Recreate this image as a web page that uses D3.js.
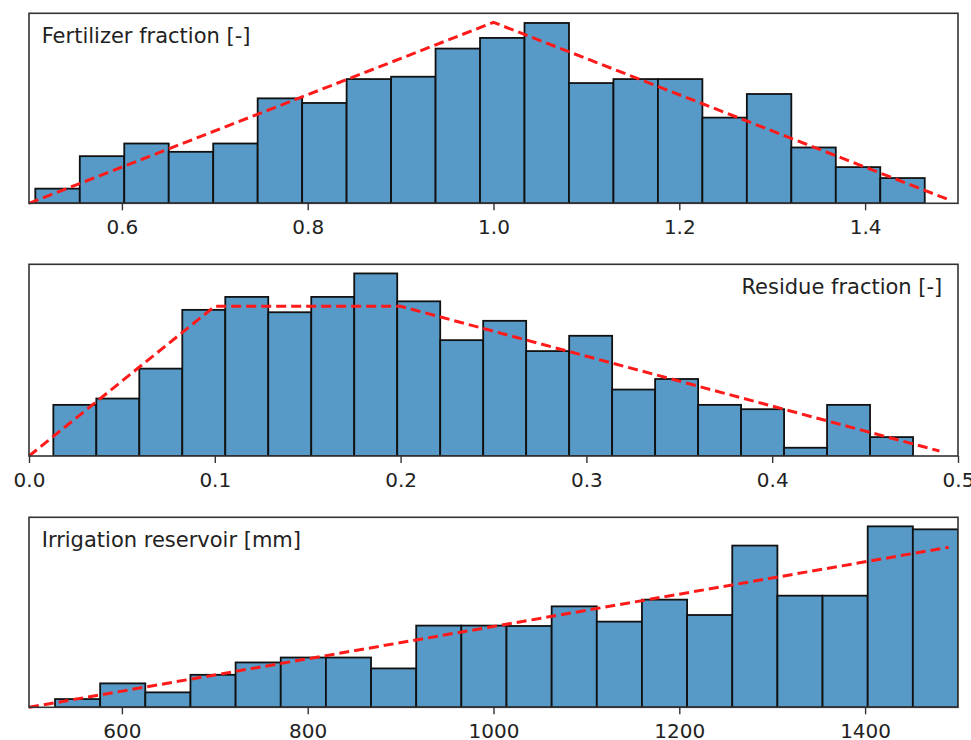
<!DOCTYPE html>
<html>
    <head>
        <meta charset="utf-8">
        <title>histograms</title>
        <script type="text/javascript" src="https://cdn.jsdelivr.net/npm/d3@7/dist/d3.min.js"></script>
        <style>
            body { margin: 0; background: #fff; }
        </style>
    </head>
    <body>
        <script type="text/javascript">
            // panel 1 - fertilizer fraction
            var fertTitle = "Fertilizer fraction [-]";
            var fertRange = [0.5, 1.5];
            var fertBinEdges = [0.5068, 1.4642];
            var fertDensity = [0.162, 0.521, 0.661, 0.569, 0.661, 1.160, 1.109, 1.373, 1.399, 1.710,
                               1.828, 1.993, 1.329, 1.373, 1.373, 0.947, 1.208, 0.617, 0.400, 0.279];
            var fertLineX = [0.5, 1.0, 1.49];
            var fertLineY = [0, 2.0, 0.04];
            var fertTicks = [0.6, 0.8, 1.0, 1.2, 1.4];
            var fertTickLabels = ["0.6", "0.8", "1.0", "1.2", "1.4"];

            // panel 2 - residue fraction
            var resTitle = "Residue fraction [-]";
            var resRange = [0, 0.5];
            var resBinEdges = [0.0131, 0.4758];
            var resDensity = [1.138, 1.279, 1.945, 3.253, 3.541, 3.200, 3.541, 4.064, 3.443, 2.579,
                              3.009, 2.335, 2.676, 1.479, 1.714, 1.138, 1.042, 0.184, 1.138, 0.421];
            var resLineX = [0, 0.1, 0.2, 0.49];
            var resLineY = [0, 3.333, 3.333, 0.111];
            var resTicks = [0, 0.1, 0.2, 0.3, 0.4, 0.5];
            var resTickLabels = ["0.0", "0.1", "0.2", "0.3", "0.4", "0.5"];

            // panel 3 - irrigation reservoir
            var irrTitle = "Irrigation reservoir [mm]";
            var irrRange = [500, 1500];
            var irrBinEdges = [528, 1500];
            var irrDensity = [0.000102, 0.000296, 0.000185, 0.000402, 0.000555, 0.000616, 0.000616, 0.000481, 0.001011, 0.001011,
                              0.001006, 0.001249, 0.001060, 0.001332, 0.001142, 0.002001, 0.001381, 0.001381, 0.002239, 0.002202];
            var irrLineX = [500, 1490];
            var irrLineY = [0, 0.00198];
            var irrTicks = [600, 800, 1000, 1200, 1400];
            var irrTickLabels = ["600", "800", "1000", "1200", "1400"];

            var w = 971;
            var h = 740;
            var left = 29;
            var right = 958;
            var barColor = "#5799c7";
            var font = "DejaVu Sans, sans-serif";

            var svg = d3.select("body")
                    .append("svg")
                    .attr("width", w)
                    .attr("height", h);

            var panels = [
                {title: fertTitle, range: fertRange, edges: fertBinEdges, dens: fertDensity, lx: fertLineX, ly: fertLineY,
                 ticks: fertTicks, labels: fertTickLabels, top: 13.3, bottom: 203.3, anchor: "start"},
                {title: resTitle, range: resRange, edges: resBinEdges, dens: resDensity, lx: resLineX, ly: resLineY,
                 ticks: resTicks, labels: resTickLabels, top: 264.3, bottom: 456, anchor: "end"},
                {title: irrTitle, range: irrRange, edges: irrBinEdges, dens: irrDensity, lx: irrLineX, ly: irrLineY,
                 ticks: irrTicks, labels: irrTickLabels, top: 517.3, bottom: 707.3, anchor: "start"}
            ];

            panels.forEach(function(p, k) {
                var g = svg.append("g");

                var xScale = d3.scaleLinear()
                        .domain(p.range)
                        .range([left, right]);

                var ymax = Math.max(d3.max(p.dens), d3.max(p.ly)) * 1.05;
                var yScale = d3.scaleLinear()
                        .domain([0, ymax])
                        .range([p.bottom, p.top]);

                var n = p.dens.length;
                var bw = (p.edges[1] - p.edges[0]) / n;

                g.append("clipPath")
                    .attr("id", "clip" + k)
                    .append("rect")
                    .attr("x", left)
                    .attr("y", p.top)
                    .attr("width", right - left)
                    .attr("height", p.bottom - p.top);

                // histogram bars
                g.append("g")
                    .attr("clip-path", "url(#clip" + k + ")")
                    .selectAll("rect")
                    .data(p.dens)
                    .enter()
                    .append("rect")
                    .attr("x", function(d, i) { return xScale(p.edges[0] + i * bw); })
                    .attr("y", function(d) { return yScale(d); })
                    .attr("width", function(d, i) { return xScale(p.edges[0] + (i + 1) * bw) - xScale(p.edges[0] + i * bw); })
                    .attr("height", function(d) { return yScale(0) - yScale(d); })
                    .attr("fill", barColor)
                    .attr("stroke", "#111")
                    .attr("stroke-width", 1.8);

                // red dashed pdf line
                var line = d3.line()
                    .x(function(d) { return xScale(d[0]); })
                    .y(function(d) { return yScale(d[1]); });

                g.append("path")
                    .attr("d", line(d3.zip(p.lx, p.ly)))
                    .attr("fill", "none")
                    .attr("stroke", "#ff1a1a")
                    .attr("stroke-width", 3)
                    .attr("stroke-dasharray", "10,5");

                // frame
                g.append("rect")
                    .attr("x", left)
                    .attr("y", p.top)
                    .attr("width", right - left)
                    .attr("height", p.bottom - p.top)
                    .attr("fill", "none")
                    .attr("stroke", "#333")
                    .attr("stroke-width", 1.6);

                var xAxis = d3.axisBottom()
                        .scale(xScale)
                        .tickValues(p.ticks)
                        .tickFormat(function(d, i) { return p.labels[i]; })
                        .tickSize(7)
                        .tickPadding(10);

                var ax = g.append("g")
                    .attr("transform", "translate(0," + p.bottom + ")")
                    .call(xAxis);
                ax.select(".domain").remove();
                ax.selectAll("line").attr("stroke", "#333").attr("stroke-width", 1.4);
                ax.selectAll("text")
                    .attr("font-family", font)
                    .attr("font-size", "20px")
                    .attr("fill", "#222");

                g.append("text")
                    .text(p.title)
                    .attr("x", p.anchor == "start" ? 41.7 : 942.3)
                    .attr("y", p.top + 29.5)
                    .attr("text-anchor", p.anchor)
                    .attr("font-family", font)
                    .attr("font-size", "21px")
                    .attr("fill", "#222");
            });
        </script>
    </body>
</html>
